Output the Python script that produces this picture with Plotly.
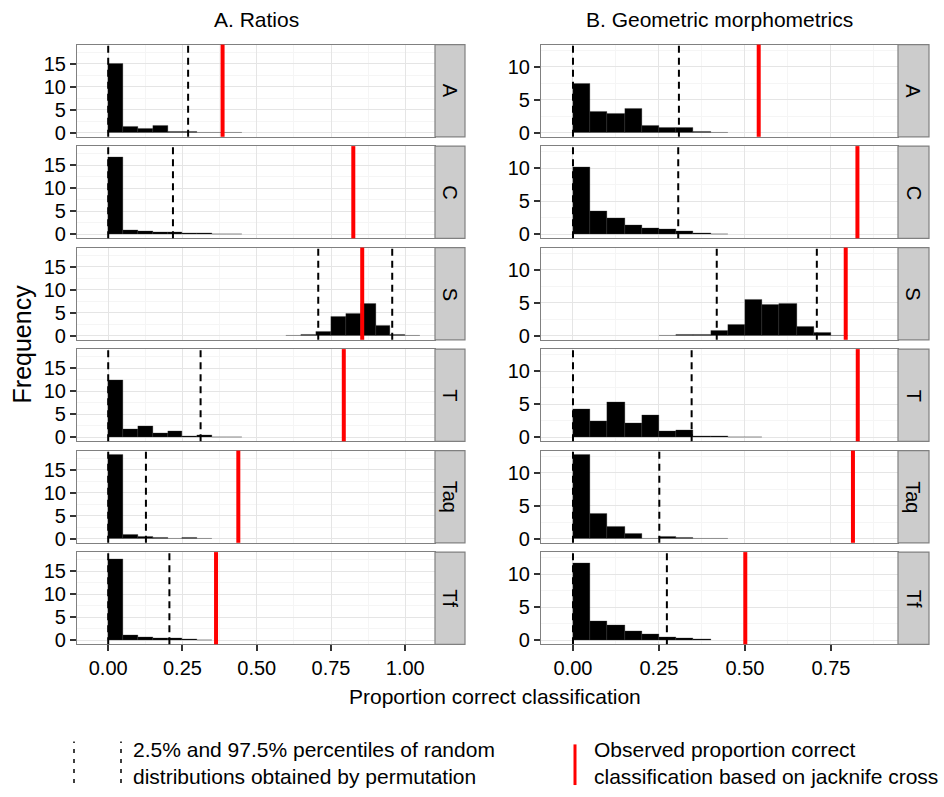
import plotly.graph_objects as go
import numpy as np

W, H = 944, 797

species = ["A", "C", "S", "T", "Taq", "Tf"]
column_titles = ["A. Ratios", "B. Geometric morphometrics"]
bin_width = 0.05

# ---- A. Ratios: left edge of first bin and densities per bin ----
ratios_start = [0.0, 0.0, 0.60, 0.0, 0.0, 0.0]
ratios_A = [15.0, 1.36, 0.93, 1.5, 0.3, 0.15, 0.07, 0.03, 0.02]
ratios_C = [16.8, 0.93, 0.7, 0.5, 0.35, 0.2, 0.12, 0.05, 0.03]
ratios_S = [0.03, 0.2, 0.8, 4.2, 4.86, 6.86, 2.07, 0.3, 0.05]
ratios_T = [12.36, 1.7, 2.36, 0.86, 1.2, 0.3, 0.4, 0.05, 0.05]
ratios_Taq = [18.2, 0.93, 0.5, 0.2, 0.05, 0.15, 0.05]
ratios_Tf = [17.5, 1.0, 0.7, 0.5, 0.35, 0.2, 0.1]
ratios_low = [0.0, 0.0, 0.707, 0.0, 0.0, 0.0]
ratios_high = [0.269, 0.218, 0.956, 0.311, 0.127, 0.206]
ratios_obs = [0.385, 0.825, 0.855, 0.793, 0.438, 0.363]

# ---- B. Geometric morphometrics ----
gm_start = [0.0, 0.0, 0.25, 0.0, 0.0, 0.0]
gm_A = [7.46, 3.13, 2.94, 3.58, 1.09, 0.75, 0.7, 0.15, 0.05]
gm_C = [10.25, 3.47, 2.38, 1.44, 0.94, 0.69, 0.5, 0.1, 0.03]
gm_S = [0.02, 0.1, 0.2, 0.7, 1.73, 5.54, 4.75, 4.85, 1.44, 0.5, 0.05]
gm_T = [4.26, 2.48, 5.3, 2.08, 3.42, 0.89, 1.04, 0.15, 0.1, 0.05, 0.02]
gm_Taq = [12.75, 3.85, 1.85, 0.75, 0.0, 0.35, 0.15, 0.05, 0.03]
gm_Tf = [11.65, 2.85, 2.3, 1.3, 0.85, 0.45, 0.25, 0.1]
gm_low = [0.0, 0.0, 0.418, 0.0, 0.0, 0.0]
gm_high = [0.308, 0.306, 0.709, 0.345, 0.251, 0.273]
gm_obs = [0.54, 0.827, 0.793, 0.828, 0.814, 0.501]

x_ticks = [[0.0, 0.25, 0.5, 0.75, 1.0], [0.0, 0.25, 0.5, 0.75]]
y_ticks = [[0, 5, 10, 15], [0, 5, 10]]

legend_texts = ["2.5% and 97.5% percentiles of random<br>distributions obtained by permutation",
                "Observed proportion correct<br>classification based on jacknife cross"]

columns = [
    dict(start=ratios_start, dens=[ratios_A, ratios_C, ratios_S, ratios_T, ratios_Taq, ratios_Tf],
         low=ratios_low, high=ratios_high, obs=ratios_obs),
    dict(start=gm_start, dens=[gm_A, gm_C, gm_S, gm_T, gm_Taq, gm_Tf],
         low=gm_low, high=gm_high, obs=gm_obs),
]

# ---- layout geometry (pixels) ----
FONT = "Liberation Sans, Arial, Helvetica, sans-serif"
col_px = [(77, 435), (541, 898)]
strip_px = [(435, 465), (898, 929)]
panel_top0, panel_h, panel_step = 45, 93, 102.4
x_ranges = [[-0.105, 1.10], [-0.093, 0.945]]
y_ranges = [[-0.91, 19.11], [-0.64, 13.39]]
GRID = "#E5E5E5"
MINOR = "#F5F5F5"
BORDER = "#808080"


def px_x(p):
    return p / W


def px_y(p):
    return 1 - p / H


fig = go.Figure()
shapes = []
annotations = []

for c, col in enumerate(columns):
    for r in range(6):
        idx = c * 6 + r + 1
        sfx = "" if idx == 1 else str(idx)
        top = panel_top0 + r * panel_step
        bot = top + panel_h
        dens = col["dens"][r]
        centers = col["start"][r] + bin_width * (np.arange(len(dens)) + 0.5)
        fig.add_trace(go.Bar(
            x=centers, y=dens, width=bin_width,
            marker=dict(color="black", line=dict(color="#3a3a3a", width=0.3)),
            xaxis="x" + sfx, yaxis="y" + sfx, showlegend=False, hoverinfo="skip"))

        bottom_row = (r == 5)
        xt = x_ticks[c]
        yt = y_ticks[c]
        fig.layout["xaxis" + sfx] = dict(
            domain=[px_x(col_px[c][0]), px_x(col_px[c][1])],
            anchor="y" + sfx, range=x_ranges[c],
            tickvals=xt, ticktext=[f"{v:.2f}" for v in xt],
            showticklabels=bottom_row, ticks="outside" if bottom_row else "",
            ticklen=6, tickwidth=1.5, tickcolor="#333333",
            tickfont=dict(family=FONT, size=20, color="black"),
            showgrid=True, gridcolor=GRID, gridwidth=1,
            minor=dict(tickvals=[v + 0.125 for v in [-0.25] + xt], showgrid=True,
                       gridcolor=MINOR, gridwidth=1),
            showline=True, mirror=True, linecolor=BORDER, linewidth=1.2,
            zeroline=False, fixedrange=True)
        fig.layout["yaxis" + sfx] = dict(
            domain=[px_y(bot), px_y(top)], anchor="x" + sfx, range=y_ranges[c],
            tickvals=yt, ticks="outside", ticklen=6, tickwidth=1.5, tickcolor="#333333",
            tickfont=dict(family=FONT, size=20, color="black"),
            showgrid=True, gridcolor=GRID, gridwidth=1,
            minor=dict(tickvals=[v + 2.5 for v in yt], showgrid=True,
                       gridcolor=MINOR, gridwidth=1),
            showline=True, mirror=True, linecolor=BORDER, linewidth=1.2,
            zeroline=False, fixedrange=True)

        xr, yr = "x" + sfx, "y" + sfx + " domain"
        for v in (col["low"][r], col["high"][r]):
            shapes.append(dict(type="line", xref=xr, yref=yr, x0=v, x1=v, y0=0, y1=1,
                               line=dict(color="black", width=2, dash="7px,5px")))
        shapes.append(dict(type="line", xref=xr, yref=yr, x0=col["obs"][r], x1=col["obs"][r],
                           y0=0, y1=1, line=dict(color="#FF0000", width=4)))

        # strip
        shapes.append(dict(type="rect", xref="paper", yref="paper",
                           x0=px_x(strip_px[c][0]), x1=px_x(strip_px[c][1]),
                           y0=px_y(bot), y1=px_y(top),
                           fillcolor="#CCCCCC", line=dict(color=BORDER, width=1.2), layer="above"))
        annotations.append(dict(text=species[r], xref="paper", yref="paper",
                                x=px_x((strip_px[c][0] + strip_px[c][1]) / 2),
                                y=px_y((top + bot) / 2), showarrow=False, textangle=90,
                                font=dict(family=FONT, size=20, color="black"),
                                xanchor="center", yanchor="middle"))

    annotations.append(dict(text=column_titles[c], xref="paper", yref="paper",
                            x=px_x(sum(col_px[c]) / 2), y=px_y(20), showarrow=False,
                            font=dict(family=FONT, size=21, color="black"),
                            xanchor="center", yanchor="middle"))

annotations.append(dict(text="Frequency", xref="paper", yref="paper", x=px_x(22), y=px_y(347.5),
                        showarrow=False, textangle=-90, font=dict(family=FONT, size=25, color="black"),
                        xanchor="center", yanchor="middle"))
annotations.append(dict(text="Proportion correct classification", xref="paper", yref="paper",
                        x=px_x(495), y=px_y(703), showarrow=False,
                        font=dict(family=FONT, size=21, color="black"),
                        xanchor="center", yanchor="middle"))

# legend (drawn manually, as in the reference)
for lx in (74, 121):
    shapes.append(dict(type="line", xref="paper", yref="paper", x0=px_x(lx), x1=px_x(lx),
                       y0=px_y(790), y1=px_y(748), line=dict(color="black", width=1.5, dash="4px,6px")))
shapes.append(dict(type="line", xref="paper", yref="paper", x0=px_x(575), x1=px_x(575),
                   y0=px_y(792), y1=px_y(751), line=dict(color="#FF0000", width=3)))
annotations.append(dict(text=legend_texts[0], xref="paper", yref="paper", x=px_x(131), y=px_y(769.5),
                        showarrow=False, align="left", xanchor="left", yanchor="middle",
                        font=dict(family=FONT, size=21, color="black")))
annotations.append(dict(text=legend_texts[1], xref="paper", yref="paper", x=px_x(592), y=px_y(769.5),
                        showarrow=False, align="left", xanchor="left", yanchor="middle",
                        font=dict(family=FONT, size=21, color="black")))

fig.update_layout(width=W, height=H, autosize=False, margin=dict(l=0, r=0, t=0, b=0),
                  paper_bgcolor="white", plot_bgcolor="white", showlegend=False,
                  shapes=shapes, annotations=annotations, bargap=0,
                  font=dict(family=FONT, color="black"))

fig.write_html("out.html")
